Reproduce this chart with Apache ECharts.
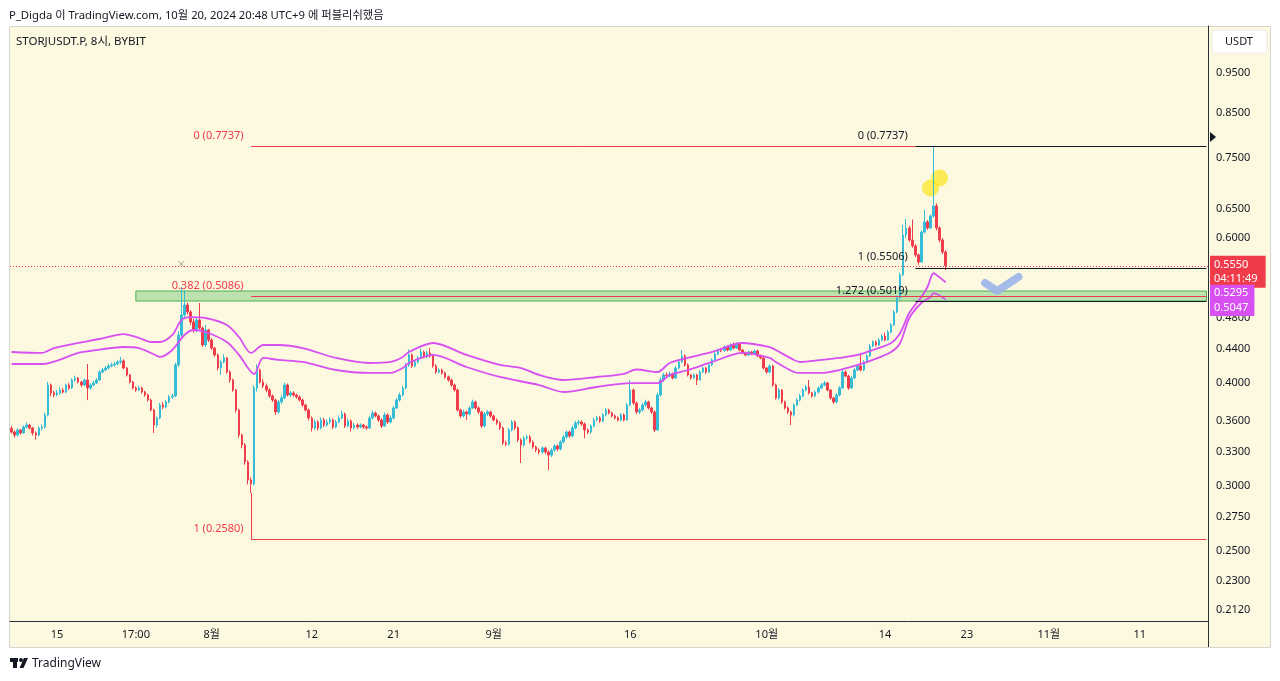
<!DOCTYPE html>
<html>
<head>
<meta charset="utf-8">
<script src="https://cdn.jsdelivr.net/npm/echarts@6/dist/echarts.min.js"></script>
<style>
  html, body { margin: 0; padding: 0; background: #fff; }
  #chart { width: 1280px; height: 681px; }
</style>
</head>
<body>
<div id="chart"></div>
<script>
// --- data (8h candles, STORJUSDT.P, from 2024-07-10) ---
var firstOpen = 0.3520;
var closes = [
  .3485,.3456,.3505,.3476,.3534,.3554,.3524,.3476,.3456,.3524,
  .3534,.3655,.3974,.3887,.3865,.3887,.3919,.3897,.3974,.3941,
  .4030,.4053,.4007,.3974,.4030,.3941,.3974,.3996,.4030,.4121,
  .4144,.4167,.4191,.4203,.4215,.4238,.4250,.4167,.4087,.4007,
  .3941,.3919,.3941,.3897,.3865,.3811,.3706,.3554,.3624,.3758,
  .3737,.3790,.3844,.3854,.4203,.4570,.4832,.4969,.4873,.4739,
  .4634,.4765,.4660,.4444,.4634,.4506,.4406,.4322,.4167,.4238,
  .4286,.4121,.4030,.3919,.3706,.3456,.3361,.3205,.3048,.3015,
  .3941,.4144,.4007,.3963,.3919,.3854,.3811,.3686,.3790,.3833,
  .3974,.3865,.3887,.3865,.3844,.3811,.3758,.3706,.3624,.3524,
  .3584,.3524,.3604,.3554,.3584,.3604,.3534,.3584,.3624,.3665,
  .3544,.3594,.3524,.3554,.3534,.3554,.3534,.3524,.3624,.3675,
  .3645,.3604,.3544,.3655,.3584,.3624,.3727,.3811,.3865,.3941,
  .4203,.4322,.4191,.4238,.4286,.4358,.4298,.4346,.4310,.4191,
  .4121,.4144,.4110,.4064,.4030,.3974,.3919,.3706,.3645,.3686,
  .3665,.3727,.3790,.3727,.3686,.3544,.3665,.3686,.3645,.3604,
  .3574,.3524,.3380,.3370,.3505,.3584,.3524,.3409,.3361,.3428,
  .3437,.3390,.3342,.3314,.3296,.3333,.3296,.3268,.3314,.3352,
  .3324,.3390,.3437,.3485,.3447,.3524,.3574,.3584,.3564,.3505,
  .3485,.3544,.3604,.3624,.3594,.3655,.3706,.3675,.3645,.3624,
  .3604,.3655,.3604,.3758,.3919,.3779,.3686,.3706,.3758,.3790,
  .3727,.3686,.3505,.3865,.4030,.4087,.4080,.4098,.4053,.4167,
  .4238,.4310,.4203,.4087,.4053,.4087,.4030,.4121,.4167,.4121,
  .4203,.4262,.4334,.4382,.4375,.4419,.4382,.4444,.4406,.4456,
  .4382,.4346,.4322,.4358,.4334,.4370,.4310,.4286,.4167,.4121,
  .4191,.3974,.3833,.3919,.3790,.3727,.3686,.3655,.3758,.3811,
  .3854,.3919,.3952,.3887,.3854,.3897,.3941,.3974,.3996,.3919,
  .3833,.3790,.3865,.3941,.4121,.4075,.3941,.4053,.4144,.4191,
  .4144,.4238,.4310,.4431,.4481,.4444,.4506,.4557,.4506,.4608,
  .4700,.4873,.5067,.5404,.6042,.6162,.5958,.5860,.5714,.5603,
  .6093,.6266,.6162,.6372,.6552,.6162,.5958,.5762,.5550
];
var highs = [
  .3545,.3500,.3520,.3515,.3550,.3580,.3565,.3535,.3490,.3540,
  .3560,.3680,.4010,.3990,.3910,.3920,.3950,.3940,.3990,.3995,
  .4050,.4080,.4065,.4020,.4045,.4215,.3995,.4020,.4050,.4140,
  .4170,.4190,.4215,.4230,.4240,.4265,.4300,.4270,.4180,.4100,
  .4020,.3960,.3965,.3955,.3910,.3880,.3825,.3720,.3640,.3780,
  .3790,.3810,.3865,.3880,.4230,.4620,.5225,.5180,.5000,.4900,
  .4780,.4800,.4997,.4680,.4700,.4650,.4530,.4420,.4340,.4260,
  .4330,.4300,.4140,.4045,.3930,.3720,.3470,.3380,.3220,.3070,
  .3970,.4210,.4160,.4040,.3990,.3940,.3870,.3825,.3810,.3860,
  .4000,.3990,.3910,.3905,.3880,.3860,.3825,.3770,.3720,.3640,
  .3610,.3600,.3630,.3625,.3610,.3630,.3620,.3605,.3650,.3700,
  .3680,.3620,.3610,.3575,.3570,.3570,.3565,.3550,.3645,.3700,
  .3690,.3660,.3620,.3680,.3670,.3650,.3750,.3830,.3890,.3965,
  .4230,.4390,.4340,.4265,.4310,.4400,.4375,.4370,.4406,.4330,
  .4210,.4165,.4160,.4125,.4080,.4045,.3990,.3935,.3720,.3710,
  .3700,.3745,.3815,.3805,.3745,.3700,.3685,.3705,.3700,.3660,
  .3620,.3590,.3540,.3400,.3525,.3605,.3600,.3540,.3425,.3445,
  .3460,.3455,.3405,.3355,.3330,.3350,.3345,.3310,.3330,.3370,
  .3365,.3405,.3455,.3500,.3500,.3545,.3595,.3605,.3600,.3580,
  .3520,.3560,.3625,.3645,.3640,.3675,.3725,.3720,.3690,.3660,
  .3640,.3675,.3670,.3780,.4030,.3935,.3795,.3725,.3780,.3815,
  .3805,.3740,.3700,.3890,.4060,.4110,.4115,.4125,.4115,.4190,
  .4260,.4382,.4330,.4220,.4100,.4105,.4100,.4140,.4185,.4180,
  .4220,.4280,.4355,.4400,.4405,.4440,.4435,.4465,.4475,.4480,
  .4470,.4395,.4365,.4375,.4370,.4390,.4385,.4325,.4300,.4180,
  .4210,.4205,.3990,.3940,.3930,.3805,.3745,.3700,.3775,.3830,
  .3875,.3940,.3975,.4030,.3900,.3915,.3960,.3995,.4020,.4010,
  .3930,.3845,.3885,.3960,.4150,.4140,.4090,.4075,.4165,.4215,
  .4330,.4260,.4330,.4455,.4505,.4500,.4530,.4580,.4600,.4635,
  .4725,.4900,.5100,.5440,.6213,.6320,.6200,.6310,.5890,.5740,
  .6120,.6480,.6300,.6400,.7737,.6600,.6190,.5990,.5790
];
var lows = [
  .3470,.3430,.3440,.3460,.3470,.3520,.3510,.3450,.3410,.3445,
  .3500,.3520,.3640,.3850,.3840,.3850,.3870,.3880,.3885,.3920,
  .3930,.4010,.3990,.3950,.3960,.3810,.3920,.3960,.3985,.4020,
  .4105,.4130,.4150,.4175,.4185,.4200,.4215,.4150,.4070,.3990,
  .3925,.3900,.3905,.3880,.3845,.3795,.3690,.3476,.3530,.3610,
  .3715,.3725,.3775,.3820,.3840,.4180,.4550,.4800,.4840,.4700,
  .4600,.4610,.4640,.4420,.4420,.4480,.4380,.4300,.4140,.4087,
  .4220,.4100,.4000,.3900,.3680,.3430,.3330,.3180,.3010,.2940,
  .3000,.3900,.3990,.3940,.3895,.3835,.3790,.3655,.3670,.3770,
  .3820,.3850,.3845,.3845,.3825,.3795,.3740,.3690,.3600,.3490,
  .3505,.3500,.3510,.3535,.3535,.3565,.3515,.3520,.3570,.3610,
  .3525,.3530,.3490,.3510,.3515,.3520,.3515,.3505,.3515,.3610,
  .3630,.3585,.3525,.3535,.3565,.3570,.3610,.3715,.3795,.3850,
  .3925,.4180,.4170,.4175,.4220,.4270,.4280,.4285,.4290,.4170,
  .4100,.4105,.4090,.4045,.4010,.3955,.3900,.3690,.3625,.3630,
  .3604,.3650,.3715,.3710,.3665,.3525,.3530,.3645,.3625,.3590,
  .3555,.3505,.3360,.3350,.3355,.3490,.3505,.3390,.3196,.3345,
  .3410,.3375,.3325,.3295,.3275,.3280,.3275,.3134,.3250,.3300,
  .3305,.3310,.3375,.3420,.3430,.3435,.3510,.3555,.3545,.3425,
  .3465,.3470,.3530,.3590,.3575,.3580,.3640,.3660,.3630,.3610,
  .3590,.3590,.3590,.3595,.3745,.3760,.3665,.3665,.3690,.3740,
  .3710,.3665,.3485,.3495,.3850,.4010,.4060,.4060,.4035,.4040,
  .4150,.4225,.4185,.4070,.4035,.4040,.3974,.4020,.4110,.4100,
  .4110,.4190,.4250,.4320,.4355,.4360,.4365,.4370,.4390,.4395,
  .4365,.4330,.4305,.4310,.4320,.4320,.4295,.4270,.4150,.4100,
  .4105,.3955,.3815,.3815,.3770,.3710,.3665,.3554,.3640,.3745,
  .3795,.3840,.3905,.3870,.3835,.3840,.3880,.3925,.3960,.3905,
  .3815,.3770,.3775,.3850,.3930,.4060,.3920,.3930,.4040,.4130,
  .4130,.4130,.4225,.4295,.4415,.4425,.4430,.4490,.4490,.4495,
  .4590,.4685,.4855,.5050,.5390,.5990,.5930,.5830,.5680,.5560,
  .5590,.6070,.6130,.6140,.6340,.6120,.5920,.5730,.5479
];

// band indicator, read at points along the curves: [candle index, price]
var upperBand = [[0,.4358],[10,.4346],[14,.4406],[22,.4469],[29,.4519],[37,.4582],[42,.4532],[46,.4481],[49,.4481],[53,.4570],[56,.4765],[59,.4805],[64,.4792],[71,.4700],[75,.4544],[79,.4346],[83,.4444],[88,.4444],[96,.4406],[107,.4286],[118,.4226],[125,.4238],[129,.4298],[131,.4358],[139,.4469],[150,.4322],[161,.4203],[168,.4167],[174,.4087],[182,.4030],[193,.4064],[202,.4100],[206,.4150],[213,.4121],[217,.4226],[223,.4286],[231,.4358],[241,.4469],[250,.4419],[252,.4382],[258,.4262],[260,.4238],[267,.4262],[273,.4286],[279,.4322],[284,.4382],[290,.4469],[293,.4596],[296,.4859],[300,.5082],[302,.5225],[304,.5430],[305,.5404],[308,.5295]];
var lowerBand = [[0,.4214],[10,.4214],[22,.4346],[26,.4370],[37,.4419],[42,.4406],[46,.4346],[49,.4298],[53,.4382],[57,.4570],[60,.4634],[64,.4608],[71,.4481],[75,.4322],[80,.4098],[83,.4286],[88,.4262],[96,.4238],[107,.4144],[118,.4110],[125,.4110],[129,.4167],[131,.4226],[139,.4322],[150,.4179],[161,.4064],[174,.3974],[182,.3897],[193,.3952],[204,.3996],[213,.3996],[217,.4087],[223,.4144],[231,.4238],[241,.4346],[250,.4286],[252,.4238],[258,.4121],[260,.4110],[267,.4110],[273,.4144],[279,.4203],[284,.4262],[290,.4358],[293,.4469],[296,.4792],[300,.4997],[303,.5082],[304,.5138],[308,.5047]];

// fib tools
var redFibStart = 79, blackFibStart = 298;
var redFib = [{ ratio: '0', price: 0.7737 }, { ratio: '0.382', price: 0.5086 }, { ratio: '1', price: 0.2580 }];
var blackFib = [{ ratio: '0', price: 0.7737 }, { ratio: '1', price: 0.5506 }, { ratio: '1.272', price: 0.5019 }];
var zone = { from: 41, low: 0.5025, high: 0.5167 };
var countdown = '04:11:49';

// annotations drawn on the chart
var highlight = [[302.5, 0.689], [305.5, 0.7085]];
var checkMark = [[320.6, 0.5284], [325.3, 0.5167], [332.2, 0.5373]];
var crossMark = [[55.9, 0.5573]];

// axes
var yTicks = [0.95, 0.85, 0.75, 0.65, 0.60, 0.48, 0.44, 0.40, 0.36, 0.33, 0.30, 0.275, 0.25, 0.23, 0.212];
var yMin = 0.20556, yMax = 1.0833;
var categoryCount = 395;
var xLabels = {
  '2024-07-15 00:00': '15', '2024-07-23 16:00': '17:00', '2024-08-01 00:00': '8월',
  '2024-08-12 00:00': '12', '2024-08-21 00:00': '21', '2024-09-01 00:00': '9월',
  '2024-09-16 00:00': '16', '2024-10-01 00:00': '10월', '2024-10-14 00:00': '14',
  '2024-10-23 00:00': '23', '2024-11-01 00:00': '11월', '2024-11-11 00:00': '11'
};

(function() {
  var font = "'Noto Sans', 'Noto Sans CJK KR', sans-serif";
  var up = '#36bcd6', down = '#ee3e4e', band = '#d84ff2', fibRed = '#ef3b4a', ink = '#131722';
  var ln = Math.log;

  var categories = [];
  var t0 = Date.UTC(2024, 6, 10, 0);
  for (var k = 0; k < categoryCount; k++) {
    var d = new Date(t0 + k * 8 * 3600 * 1000);
    categories.push(d.toISOString().slice(0, 13).replace('T', ' ') + ':00');
  }

  var candles = closes.map(function(c, i) {
    var o = i === 0 ? firstOpen : closes[i - 1];
    return [ln(o), ln(c), ln(lows[i]), ln(highs[i])];
  });
  var toLn = function(p) { return [p[0], ln(p[1])]; };
  var lastIdx = categoryCount - 1;
  var lastPrice = closes[closes.length - 1];
  var fmt = function(f) { return f.ratio + ' (' + f.price.toFixed(4) + ')'; };

  // red tool: levels from the swing low, levels 0.382 and 1 extend right
  var redLines = redFib.map(function(f, i) {
    return [{ coord: [redFibStart, ln(f.price)] }, { coord: [i === 0 ? blackFibStart : lastIdx, ln(f.price)] }];
  });
  redLines.push([{ coord: [redFibStart, ln(redFib[2].price)] }, { coord: [redFibStart, ln(lows[redFibStart])] }]);
  var redLabels = redFib.map(function(f) { return { coord: [redFibStart, ln(f.price)], label: { formatter: fmt(f) } }; });

  var blackLines = blackFib.map(function(f) {
    return [{ coord: [blackFibStart, ln(f.price)] }, { coord: [lastIdx, ln(f.price)] }];
  });
  var blackLabels = blackFib.map(function(f) { return { coord: [blackFibStart, ln(f.price)], label: { formatter: fmt(f) } }; });

  var fibSeries = function(name, color, lines, labels) {
    return {
      name: name, type: 'line', z: 2, data: [],
      markLine: {
        symbol: ['none', 'none'], silent: true, label: { show: false },
        lineStyle: { color: color, width: 1, type: 'solid', opacity: 1 },
        data: lines
      },
      markPoint: {
        symbol: 'circle', symbolSize: 1, silent: true,
        itemStyle: { color: 'rgba(0,0,0,0)' },
        label: { show: true, position: 'left', distance: 7, offset: [0, -11], fontSize: 11, color: color, fontFamily: font },
        data: labels
      }
    };
  };

  var sideLabel = function(value, dy, bg, text) {
    return {
      symbol: ['none', 'none'], silent: true,
      data: [{
        yAxis: ln(value),
        label: {
          show: true, position: 'end', distance: 2, offset: [0, dy],
          formatter: text, backgroundColor: bg, color: '#fff',
          fontSize: 11, lineHeight: 14, padding: [1, 6, 1, 4], fontFamily: font
        }
      }]
    };
  };

  var priceLine = sideLabel(lastPrice, 6, fibRed, lastPrice.toFixed(4) + '\n' + countdown);
  priceLine.lineStyle = { color: fibRed, width: 1, type: [1, 2] };
  priceLine.data[0].label.padding = [2, 8, 2, 4];
  var upperLabel = sideLabel(upperBand[upperBand.length - 1][1], 9, band, upperBand[upperBand.length - 1][1].toFixed(4));
  upperLabel.lineStyle = { color: 'rgba(0,0,0,0)', width: 0 };
  var lowerLabel = sideLabel(lowerBand[lowerBand.length - 1][1], 10, band, lowerBand[lowerBand.length - 1][1].toFixed(4));
  lowerLabel.lineStyle = { color: 'rgba(0,0,0,0)', width: 0 };

  var chart = echarts.init(document.getElementById('chart'), null, { renderer: 'canvas' });
  chart.setOption({
    animation: false,
    backgroundColor: '#ffffff',
    textStyle: { fontFamily: font },
    title: [
      { text: 'P_Digda 이 TradingView.com, 10월 20, 2024 20:48 UTC+9 에 퍼블리쉬했음', left: 4, top: 5,
        textStyle: { fontSize: 11.3, fontWeight: 'normal', color: ink, fontFamily: font } },
      { text: 'STORJUSDT.P, 8시, BYBIT', left: 11, top: 31,
        textStyle: { fontSize: 11.5, fontWeight: 'normal', color: ink, fontFamily: font } }
    ],
    graphic: [
      { type: 'rect', z: -10, shape: { x: 9.5, y: 26.5, width: 1261, height: 621 },
        style: { fill: '#fdf9e1', stroke: '#d6d6cf', lineWidth: 1 } },
      { type: 'line', z: 5, shape: { x1: 1208.5, y1: 26, x2: 1208.5, y2: 647 }, style: { stroke: '#2a2e39', lineWidth: 1 } },
      { type: 'rect', z: 5, shape: { x: 1212, y: 30, width: 55, height: 23, r: 3 },
        style: { fill: '#ffffff', stroke: '#ebebe6', lineWidth: 1 } },
      { type: 'text', z: 6, style: { x: 1239, y: 42, text: 'USDT', fill: ink, font: '11px ' + font, textAlign: 'center', textVerticalAlign: 'middle' } },
      { type: 'polygon', z: 6, shape: { points: [[1210, 132], [1216, 137], [1210, 142]] }, style: { fill: ink } },
      { type: 'rect', z: 6, shape: { x: 10, y: 658, width: 8, height: 4 }, style: { fill: ink } },
      { type: 'rect', z: 6, shape: { x: 13, y: 658, width: 4, height: 10 }, style: { fill: ink } },
      { type: 'circle', z: 6, shape: { cx: 21, cy: 660, r: 2 }, style: { fill: ink } },
      { type: 'polygon', z: 6, shape: { points: [[19.5, 668], [24, 658], [28, 658], [23.5, 668]] }, style: { fill: ink } },
      { type: 'text', z: 6, style: { x: 32, y: 664, text: 'TradingView', fill: ink, font: '12px ' + font, textVerticalAlign: 'middle' } }
    ],
    grid: { left: 10, right: 72, top: 26, bottom: 60, containLabel: false },
    xAxis: {
      type: 'category',
      data: categories,
      boundaryGap: true,
      axisLine: { show: true, onZero: false, lineStyle: { color: '#2a2e39' } },
      axisTick: { show: false },
      splitLine: { show: false },
      axisLabel: {
        interval: function(idx, value) { return xLabels[value] !== undefined; },
        formatter: function(value) { return xLabels[value] || ''; },
        color: ink, fontSize: 11, margin: 8, fontFamily: font
      }
    },
    yAxis: {
      type: 'value',
      position: 'right',
      min: ln(yMin),
      max: ln(yMax),
      splitLine: { show: false },
      axisLine: { show: true, onZero: false, lineStyle: { color: '#2a2e39' } },
      axisTick: { show: false },
      axisLabel: {
        customValues: yTicks.map(ln),
        formatter: function(v) { return Math.exp(v).toFixed(4); },
        color: ink, fontSize: 11, margin: 8, fontFamily: font
      }
    },
    series: [
      {
        name: 'highlight',
        type: 'scatter',
        z: 1,
        clip: false,
        symbolSize: 17,
        itemStyle: { color: 'rgba(250, 228, 20, 0.85)' },
        data: highlight.map(toLn)
      },
      fibSeries('fib-red', fibRed, redLines, redLabels),
      fibSeries('fib-black', ink, blackLines, blackLabels),
      {
        name: 'STORJUSDT.P',
        type: 'candlestick',
        clip: false,
        barWidth: '66%',
        itemStyle: { color: up, color0: down, borderColor: up, borderColor0: down, borderWidth: 1 },
        data: candles,
        markLine: priceLine
      },
      {
        name: 'upper',
        type: 'line',
        clip: false,
        smooth: 0.3,
        symbol: 'none',
        lineStyle: { color: band, width: 1.8 },
        data: upperBand.map(toLn),
        markLine: upperLabel
      },
      {
        name: 'lower',
        type: 'line',
        clip: false,
        smooth: 0.3,
        symbol: 'none',
        lineStyle: { color: band, width: 1.8 },
        data: lowerBand.map(toLn),
        markLine: lowerLabel
      },
      {
        name: 'zone',
        type: 'line',
        z: 3,
        data: [],
        markArea: {
          silent: true,
          itemStyle: { color: 'rgba(100, 196, 110, 0.42)', borderColor: '#4caf50', borderWidth: 1 },
          data: [[{ coord: [zone.from, ln(zone.high)] }, { coord: [lastIdx, ln(zone.low)] }]]
        }
      },
      {
        name: 'check',
        type: 'line',
        z: 4,
        clip: false,
        symbol: 'none',
        lineStyle: { color: 'rgba(155, 180, 234, 0.9)', width: 8, cap: 'round', join: 'round' },
        data: checkMark.map(toLn)
      },
      {
        name: 'cross',
        type: 'scatter',
        z: 4,
        symbol: 'path://M0,0L10,10M10,0L0,10',
        symbolSize: 6,
        itemStyle: { color: 'rgba(0,0,0,0)', borderColor: '#8a8a8a', borderWidth: 1 },
        data: crossMark.map(toLn)
      }
    ]
  });
})();
</script>
</body>
</html>
